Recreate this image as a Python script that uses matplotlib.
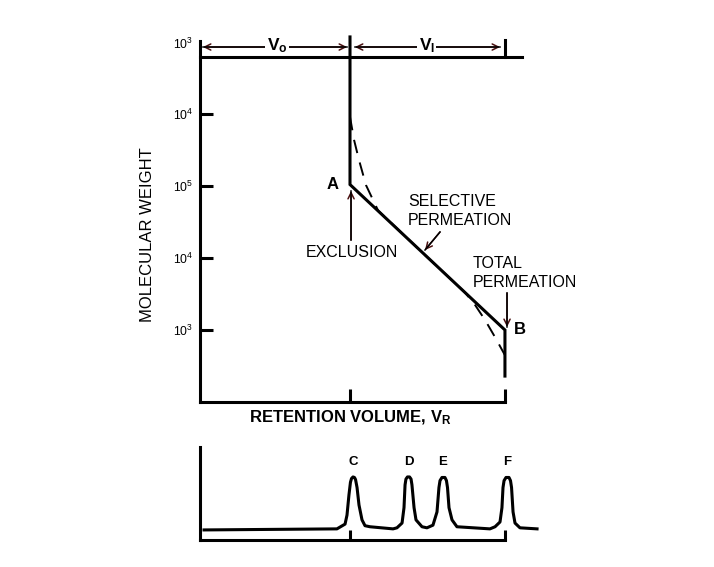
"""
Diagrama de calibração em GPC/SEC: log(massa molar) x volume de retenção,
com o cromatograma correspondente embaixo.
"""

import matplotlib

matplotlib.use("Agg")
import matplotlib.pyplot as plt

plt.rcParams["font.family"] = ["Liberation Sans", "DejaVu Sans"]
plt.rcParams["mathtext.fontset"] = "custom"
plt.rcParams["mathtext.rm"] = "Liberation Sans"
plt.rcParams["mathtext.bf"] = "Liberation Sans:bold"
plt.rcParams["mathtext.it"] = "Liberation Sans:italic"
plt.rcParams["mathtext.default"] = "regular"

# ----------------------------------------------------------------------
# Dados (volume de retenção em unidades de V0, massa molar em log10)
# ----------------------------------------------------------------------
V0 = 1.0          # volume de exclusão
VT = 2.033        # volume total de permeação (V0 + Vi)

# curva ideal: topo -> A -> B -> fim
curva_v = [V0, V0, VT, VT]
curva_logm = [7.07, 5.02, 3.0, 2.36]

# curva real (tracejada)
real_v = [1.0, 1.027, 1.06, 1.107, 1.187, 1.5, 1.767, 1.833, 1.9, 1.967, 2.033]
real_logm = [5.96, 5.64, 5.36, 5.01, 4.66, 4.04, 3.52, 3.35, 3.14, 2.90, 2.65]

ticks_logm = [3, 4, 5, 6]
ticks_rotulos = ["10$^3$", "10$^4$", "10$^5$", "10$^4$"]
topo_logm, topo_rotulo = 6.97, "10$^3$"

# cromatograma
crom_v = [0.027, 0.913, 0.967, 0.98, 0.993, 1.003, 1.01, 1.02, 1.03, 1.037,
          1.047, 1.06, 1.08, 1.1, 1.133, 1.287, 1.313, 1.347, 1.36, 1.367,
          1.373, 1.383, 1.397, 1.407, 1.413, 1.427, 1.44, 1.48, 1.513, 1.553,
          1.58, 1.593, 1.6, 1.613, 1.633, 1.643, 1.65, 1.66, 1.68, 1.713,
          1.933, 1.967, 2.0, 2.013, 2.02, 2.027, 2.04, 2.06, 2.07, 2.077,
          2.087, 2.1, 2.133, 2.247]
crom_sinal = [0.0, 0.02, 0.11, 0.28, 0.66, 0.9, 0.97, 1.0, 0.99, 0.95,
              0.8, 0.47, 0.19, 0.08, 0.06, 0.02, 0.04, 0.13, 0.42, 0.85,
              0.96, 1.0, 1.0, 0.96, 0.85, 0.42, 0.19, 0.06, 0.04, 0.09,
              0.34, 0.8, 0.93, 0.99, 0.99, 0.93, 0.8, 0.42, 0.19, 0.06,
              0.02, 0.06, 0.15, 0.42, 0.8, 0.93, 0.99, 0.99, 0.93, 0.8,
              0.34, 0.13, 0.04, 0.02]
picos = ["C", "D", "E", "F"]
picos_v = [1.02, 1.39, 1.62, 2.05]

PRETO = "black"
VINHO = "#4a1010"
LW = 2.2
FS = 11.5

fig = plt.figure(figsize=(7.14, 5.67), dpi=100)


def seta(ax, de, para, estilo="->"):
    """seta com ponta vinho e haste preta"""
    ax.annotate("", xy=para, xytext=de,
                arrowprops=dict(arrowstyle=estilo, color=VINHO, lw=1.1,
                                shrinkA=0, shrinkB=0, mutation_scale=11),
                annotation_clip=False, zorder=3)
    ax.plot([de[0], para[0]], [de[1], para[1]], color=PRETO, lw=1.1,
            clip_on=False, zorder=4)


# ----------------------------------------------------------------------
# Gráfico de cima — calibração
# ----------------------------------------------------------------------
ax = fig.add_axes([200 / 714, 1 - 402 / 567, 330 / 714, 344.9 / 567])
ax.patch.set_alpha(0)

ax.set_yticks(ticks_logm, ticks_rotulos, fontsize=8.8)
ax.tick_params(axis="y", direction="in", length=9.5, width=LW, pad=5)
ax.set_xticks([V0, VT], ["", ""])
ax.tick_params(axis="x", direction="in", length=9.5, width=LW)
ax.set_xlim(0, 2.2)
ax.set_ylim(2.0, 6.79)

for lado in ["left", "bottom", "top"]:
    ax.spines[lado].set_linewidth(LW)
ax.spines["right"].set_visible(False)
ax.spines["left"].set_bounds(2.0, 7.02)
ax.spines["bottom"].set_bounds(0, VT)
ax.spines["top"].set_bounds(0, 2.147)
for lado in ["left", "top"]:
    ax.spines[lado].set_clip_on(False)
    ax.spines[lado].set_zorder(7)

ax.text(-0.047, topo_logm, topo_rotulo, fontsize=8.8, ha="right", va="center")

ax.plot(curva_v, curva_logm, color=PRETO, lw=LW, clip_on=False,
        solid_joinstyle="miter", zorder=8)
linha_real, = ax.plot(real_v, real_logm, color=PRETO, lw=1.4, clip_on=False,
                      zorder=4)
linha_real.set_dashes((7, 5))

# barras e setas de V0 e Vi
ax.plot([VT, VT], [6.79, 7.03], color=PRETO, lw=LW, clip_on=False)
seta(ax, (0.02, 6.93), (0.98, 6.93), "<->")
seta(ax, (1.033, 6.93), (2.0, 6.93), "<->")
caixa = dict(facecolor="white", edgecolor="none", pad=1.0)
ax.text(0.513, 6.95, r"$\mathbf{V}_\mathbf{o}$", fontsize=12.5, ha="center",
        va="center", bbox=caixa, zorder=6)
ax.text(1.513, 6.95, r"$\mathbf{V}_\mathbf{I}$", fontsize=12.5, ha="center",
        va="center", bbox=caixa, zorder=6)

# rótulos da curva
ax.text(0.887, 5.014, "A", fontsize=12, fontweight="bold", ha="center", va="center")
ax.text(2.133, 3.0, "B", fontsize=12, fontweight="bold", ha="center", va="center",
        clip_on=False)
ax.text(1.013, 4.083, "EXCLUSION", fontsize=FS, ha="center", va="center")
seta(ax, (1.007, 4.25), (1.007, 4.93))
ax.text(1.387, 4.778, "SELECTIVE", fontsize=FS, ha="left", va="center")
ax.text(1.387, 4.514, "PERMEATION", fontsize=FS, ha="left", va="center")
seta(ax, (1.6, 4.361), (1.5, 4.111))
ax.text(1.82, 3.917, "TOTAL", fontsize=FS, ha="left", va="center")
ax.text(1.82, 3.653, "PERMEATION", fontsize=FS, ha="left", va="center")
seta(ax, (2.047, 3.514), (2.047, 3.042))

ax.text(1.0, 1.778, r"RETENTION VOLUME, $\mathbf{V}_\mathbf{R}$", fontsize=12,
        fontweight="bold", ha="center", va="center")
fig.text(148 / 714, 1 - 235 / 567, "MOLECULAR WEIGHT", fontsize=12,
         rotation=90, ha="center", va="center")

# ----------------------------------------------------------------------
# Gráfico de baixo — cromatograma
# ----------------------------------------------------------------------
ax2 = fig.add_axes([200 / 714, 1 - 540 / 567, 330 / 714, 97.5 / 567])
ax2.patch.set_alpha(0)
ax2.set_yticks([])
ax2.set_xticks([V0, VT], ["", ""])
ax2.tick_params(axis="x", direction="in", length=7.2, width=LW)
ax2.set_xlim(0, 2.2)
ax2.set_ylim(-0.19, 1.65)
for lado in ["top", "right"]:
    ax2.spines[lado].set_visible(False)
for lado in ["left", "bottom"]:
    ax2.spines[lado].set_linewidth(LW)
ax2.spines["left"].set_bounds(-0.19, 1.57)
ax2.spines["bottom"].set_bounds(0, VT)

ax2.plot(crom_v, crom_sinal, color=PRETO, lw=LW, clip_on=False,
         solid_joinstyle="round")
for rotulo, v in zip(picos, picos_v):
    ax2.text(v, 1.28, rotulo, fontsize=9.5, fontweight="bold", ha="center",
             va="center")

fig.savefig("out.png", dpi=100, facecolor="white")
